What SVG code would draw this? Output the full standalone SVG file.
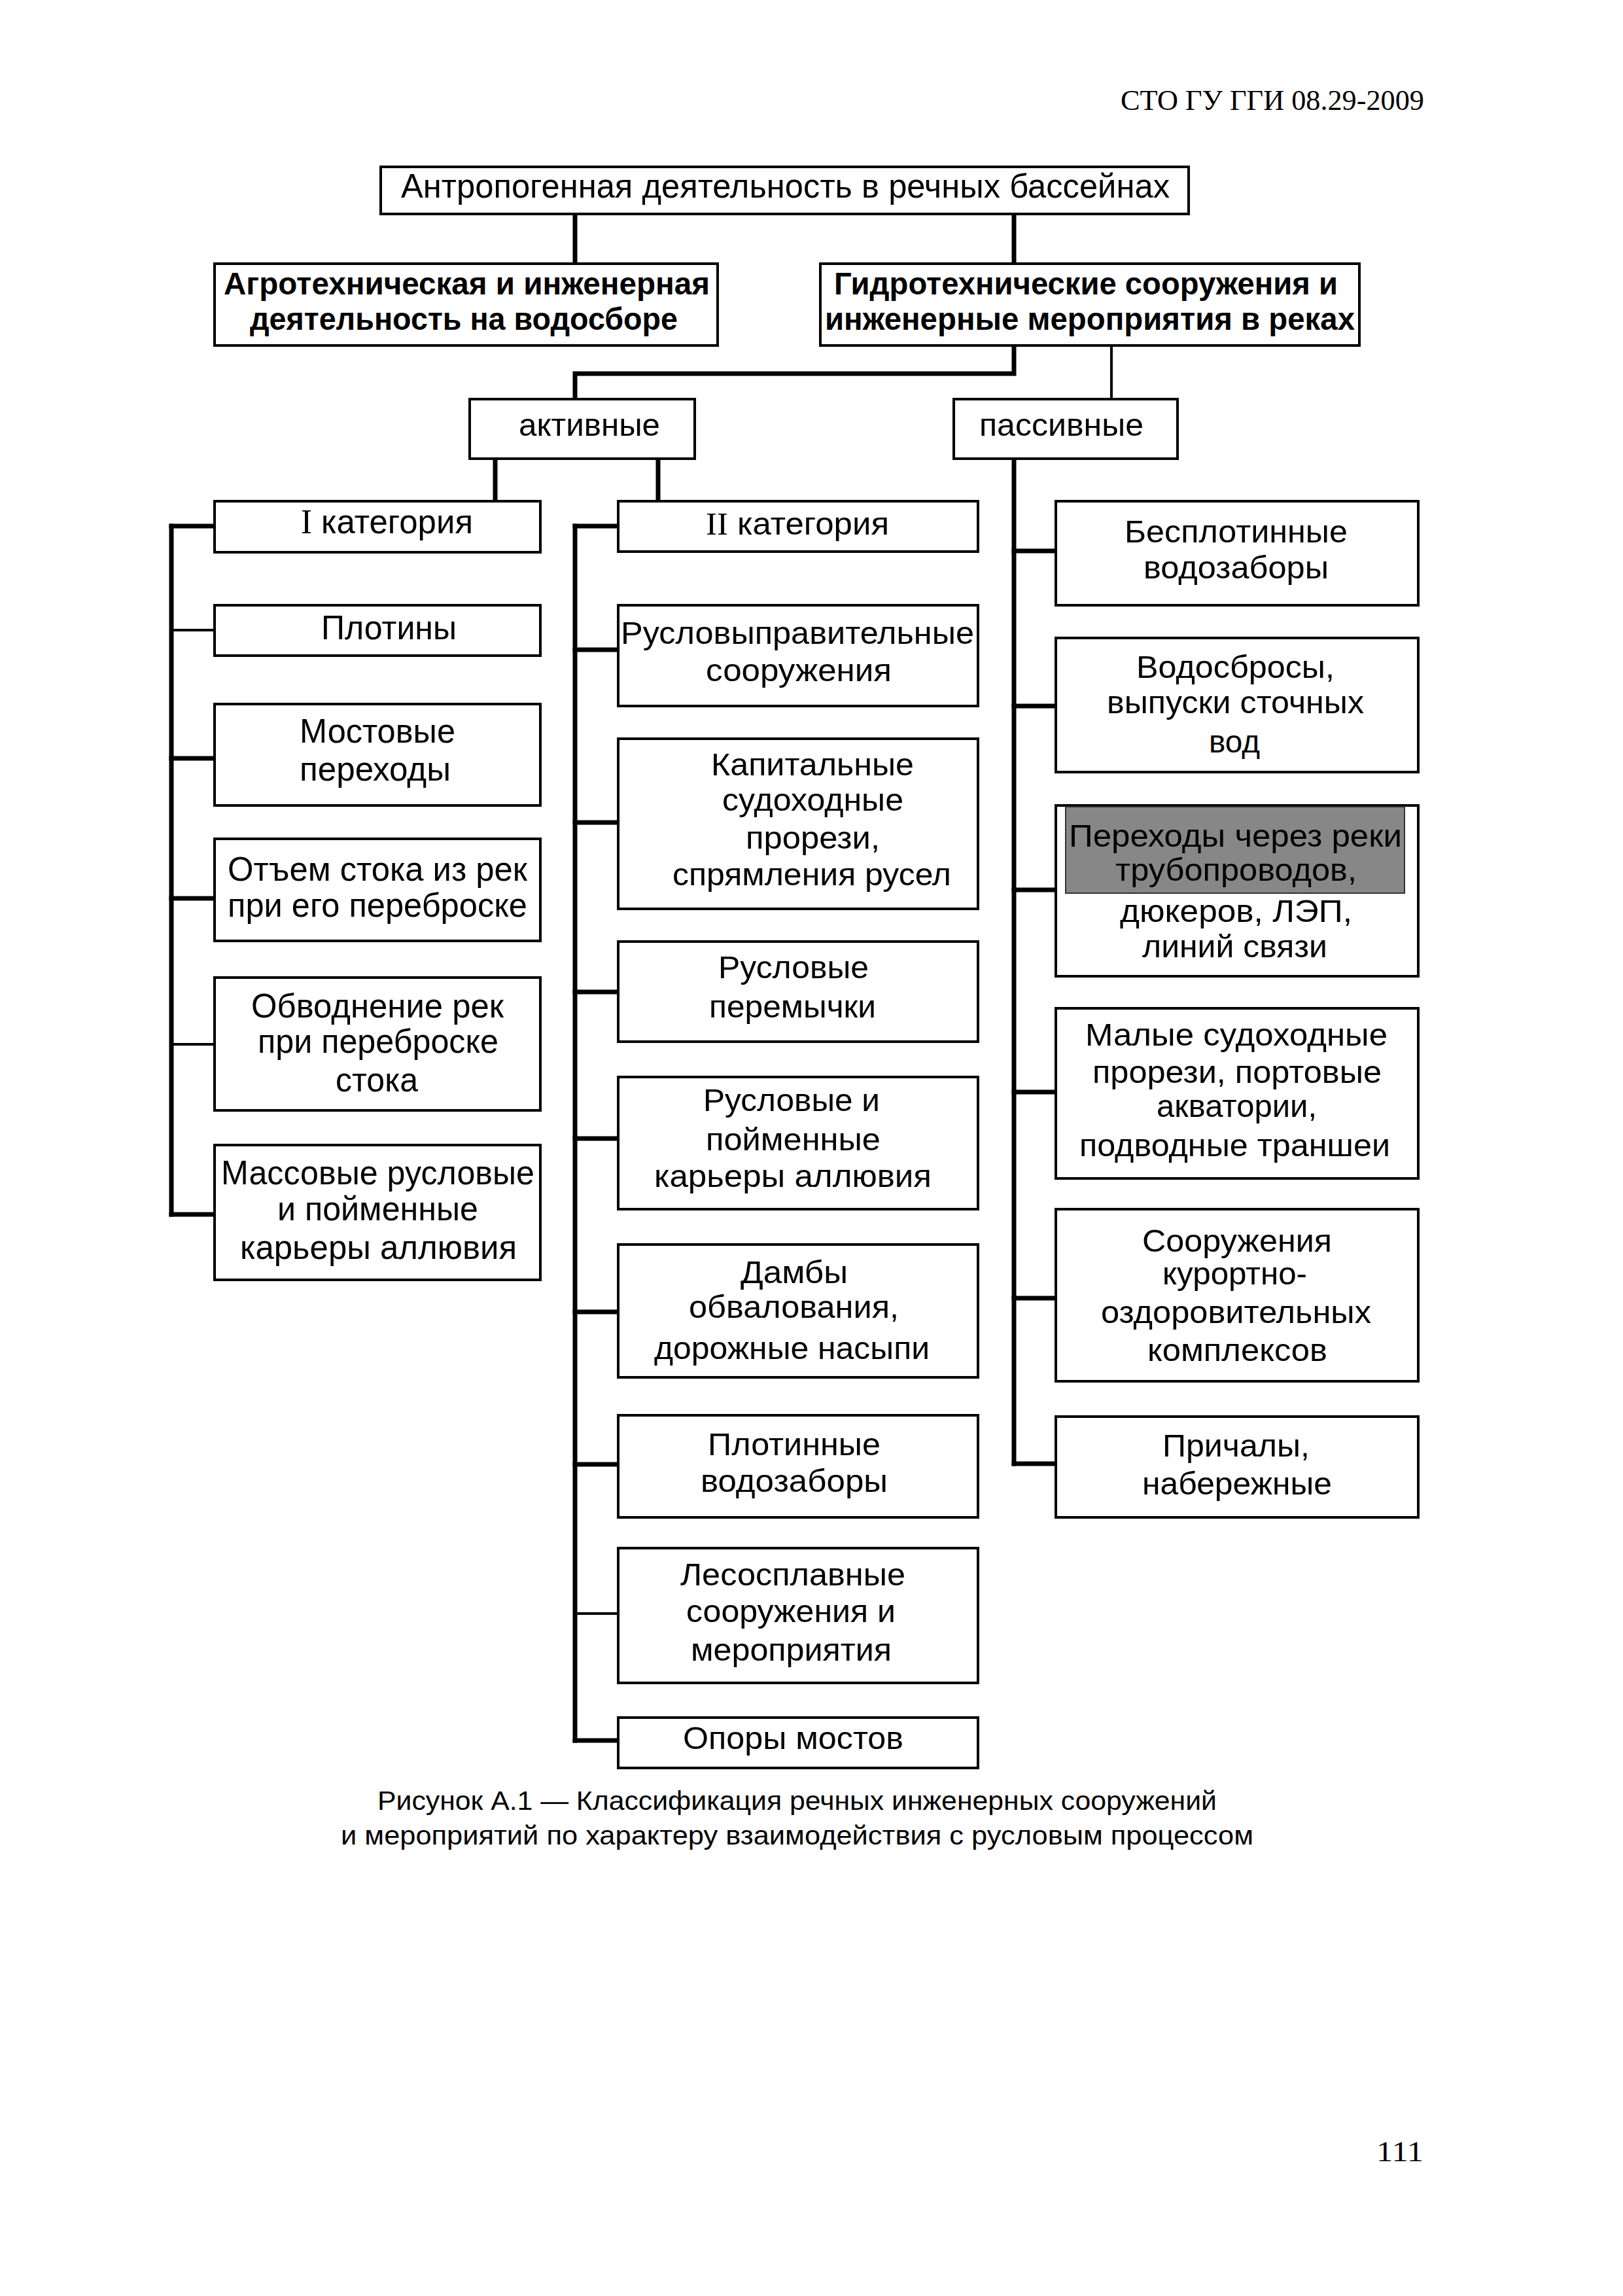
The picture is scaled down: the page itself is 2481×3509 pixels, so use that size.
<svg xmlns="http://www.w3.org/2000/svg" width="2481" height="3509" viewBox="0 0 2481 3509">
<style>
.box{fill:#fff;stroke:#000;stroke-width:4}
text{font-family:"Liberation Sans",Arial,sans-serif;fill:#000}
.t52{font-size:52px}
.t48{font-size:48px}
.b{font-weight:bold}
.rn{font-family:"Liberation Serif","Times New Roman",serif}
.c{fill:none;stroke:#000;stroke-linecap:square}
.k{stroke-width:7}
.n{stroke-width:4}
.ser{font-family:"Liberation Serif","Times New Roman",serif;font-size:44px}
</style>
<rect width="2481" height="3509" fill="#fff"/>
<text class="ser" x="1713" y="168" textLength="464" lengthAdjust="spacingAndGlyphs">СТО ГУ ГГИ 08.29-2009</text>

<g id="connectors">
<path class="c k" d="M879 327V403M1550 327V403"/>
<path class="c k" d="M1550 528V571H879V610"/>
<path class="c n" d="M1699 528V610"/>
<path class="c k" d="M757 701V766M1006 701V766"/>
<path class="c k" d="M1550 701V2237"/>
<path class="c k" d="M262 804V1856"/>
<path class="c k" d="M879 804V2660"/>
<path class="c k" d="M262 804H328M262 1159H328M262 1373H328M262 1856H328"/>
<path class="c n" d="M262 963H328M262 1596H328"/>
<path class="c k" d="M879 804H945M879 993H945M879 1257H945M879 1516H945M879 1740H945M879 2005H945M879 2238H945M879 2660H945"/>
<path class="c n" d="M879 2466H945"/>
<path class="c k" d="M1550 842H1614M1550 1079H1614M1550 1360H1614M1550 1669H1614M1550 1984H1614M1550 2237H1614"/>
</g>

<g id="n_root"><rect class="box" x="582" y="255" width="1235" height="72"/>
<text class="t52" x="613" y="302" textLength="1175" lengthAdjust="spacingAndGlyphs">Антропогенная деятельность в речных бассейнах</text></g>

<g id="n_agro"><rect class="box" x="328" y="403" width="769" height="125"/>
<text class="t48 b" x="342" y="450" textLength="743" lengthAdjust="spacingAndGlyphs">Агротехническая и инженерная</text>
<text class="t48 b" x="382" y="504" textLength="654" lengthAdjust="spacingAndGlyphs">деятельность на водосборе</text></g>

<g id="n_hydro"><rect class="box" x="1254" y="403" width="824" height="125"/>
<text class="t48 b" x="1275" y="450" textLength="770" lengthAdjust="spacingAndGlyphs">Гидротехнические сооружения и</text>
<text class="t48 b" x="1261" y="504" textLength="810" lengthAdjust="spacingAndGlyphs">инженерные мероприятия в реках</text></g>

<g id="n_active"><rect class="box" x="718" y="610" width="344" height="91"/>
<text class="t48" x="793" y="666" textLength="216" lengthAdjust="spacingAndGlyphs">активные</text></g>

<g id="n_passive"><rect class="box" x="1458" y="610" width="342" height="91"/>
<text class="t48" x="1497" y="666" textLength="251" lengthAdjust="spacingAndGlyphs">пассивные</text></g>

<!-- Left column -->
<g id="n_cat1"><rect class="box" x="328" y="766" width="498" height="78"/>
<text class="t52" x="460" y="815" textLength="263" lengthAdjust="spacingAndGlyphs"><tspan class="rn">I</tspan> категория</text></g>
<g id="n_dams"><rect class="box" x="328" y="925" width="498" height="77"/>
<text class="t52" x="491" y="977" textLength="207" lengthAdjust="spacingAndGlyphs">Плотины</text></g>
<g id="n_bridges"><rect class="box" x="328" y="1076" width="498" height="155"/>
<text class="t52" x="458" y="1135" textLength="238" lengthAdjust="spacingAndGlyphs">Мостовые</text>
<text class="t52" x="458" y="1193" textLength="231" lengthAdjust="spacingAndGlyphs">переходы</text></g>
<g id="n_withdraw"><rect class="box" x="328" y="1282" width="498" height="156"/>
<text class="t52" x="348" y="1346" textLength="458" lengthAdjust="spacingAndGlyphs">Отъем стока из рек</text>
<text class="t52" x="348" y="1401" textLength="458" lengthAdjust="spacingAndGlyphs">при его переброске</text></g>
<g id="n_watering"><rect class="box" x="328" y="1494" width="498" height="203"/>
<text class="t52" x="384" y="1555" textLength="386" lengthAdjust="spacingAndGlyphs">Обводнение рек</text>
<text class="t52" x="394" y="1609" textLength="368" lengthAdjust="spacingAndGlyphs">при переброске</text>
<text class="t52" x="513" y="1668" textLength="126" lengthAdjust="spacingAndGlyphs">стока</text></g>
<g id="n_mass"><rect class="box" x="328" y="1750" width="498" height="206"/>
<text class="t52" x="338" y="1810" textLength="479" lengthAdjust="spacingAndGlyphs">Массовые русловые</text>
<text class="t52" x="424" y="1865" textLength="307" lengthAdjust="spacingAndGlyphs">и пойменные</text>
<text class="t52" x="367" y="1924" textLength="423" lengthAdjust="spacingAndGlyphs">карьеры аллювия</text></g>

<!-- Middle column -->
<g id="n_cat2"><rect class="box" x="945" y="766" width="550" height="77"/>
<text class="t48" x="1079" y="817" textLength="280" lengthAdjust="spacingAndGlyphs"><tspan class="rn">II</tspan> категория</text></g>
<g id="n_regul"><rect class="box" x="945" y="925" width="550" height="154"/>
<text class="t48" x="949" y="984" textLength="540" lengthAdjust="spacingAndGlyphs">Русловыправительные</text>
<text class="t48" x="1079" y="1041" textLength="284" lengthAdjust="spacingAndGlyphs">сооружения</text></g>
<g id="n_cap"><rect class="box" x="945" y="1129" width="550" height="260"/>
<text class="t48" x="1087" y="1185" textLength="310" lengthAdjust="spacingAndGlyphs">Капитальные</text>
<text class="t48" x="1104" y="1239" textLength="277" lengthAdjust="spacingAndGlyphs">судоходные</text>
<text class="t48" x="1140" y="1297" textLength="205" lengthAdjust="spacingAndGlyphs">прорези,</text>
<text class="t48" x="1028" y="1353" textLength="426" lengthAdjust="spacingAndGlyphs">спрямления русел</text></g>
<g id="n_jumpers"><rect class="box" x="945" y="1439" width="550" height="153"/>
<text class="t48" x="1098" y="1495" textLength="230" lengthAdjust="spacingAndGlyphs">Русловые</text>
<text class="t48" x="1084" y="1555" textLength="255" lengthAdjust="spacingAndGlyphs">перемычки</text></g>
<g id="n_quarries"><rect class="box" x="945" y="1646" width="550" height="202"/>
<text class="t48" x="1075" y="1698" textLength="270" lengthAdjust="spacingAndGlyphs">Русловые и</text>
<text class="t48" x="1079" y="1758" textLength="267" lengthAdjust="spacingAndGlyphs">пойменные</text>
<text class="t48" x="1000" y="1814" textLength="424" lengthAdjust="spacingAndGlyphs">карьеры аллювия</text></g>
<g id="n_dikes"><rect class="box" x="945" y="1902" width="550" height="203"/>
<text class="t48" x="1132" y="1961" textLength="164" lengthAdjust="spacingAndGlyphs">Дамбы</text>
<text class="t48" x="1053" y="2014" textLength="321" lengthAdjust="spacingAndGlyphs">обвалования,</text>
<text class="t48" x="1000" y="2077" textLength="421" lengthAdjust="spacingAndGlyphs">дорожные насыпи</text></g>
<g id="n_damintake"><rect class="box" x="945" y="2163" width="550" height="156"/>
<text class="t48" x="1082" y="2224" textLength="264" lengthAdjust="spacingAndGlyphs">Плотинные</text>
<text class="t48" x="1071" y="2280" textLength="286" lengthAdjust="spacingAndGlyphs">водозаборы</text></g>
<g id="n_timber"><rect class="box" x="945" y="2366" width="550" height="206"/>
<text class="t48" x="1040" y="2423" textLength="344" lengthAdjust="spacingAndGlyphs">Лесосплавные</text>
<text class="t48" x="1049" y="2479" textLength="320" lengthAdjust="spacingAndGlyphs">сооружения и</text>
<text class="t48" x="1056" y="2538" textLength="307" lengthAdjust="spacingAndGlyphs">мероприятия</text></g>
<g id="n_piers"><rect class="box" x="945" y="2625" width="550" height="77"/>
<text class="t48" x="1044" y="2673" textLength="337" lengthAdjust="spacingAndGlyphs">Опоры мостов</text></g>

<!-- Right column -->
<g id="n_nodam"><rect class="box" x="1614" y="766" width="554" height="159"/>
<text class="t48" x="1719" y="829" textLength="341" lengthAdjust="spacingAndGlyphs">Бесплотинные</text>
<text class="t48" x="1748" y="884" textLength="283" lengthAdjust="spacingAndGlyphs">водозаборы</text></g>
<g id="n_outlets"><rect class="box" x="1614" y="975" width="554" height="205"/>
<text class="t48" x="1737" y="1036" textLength="303" lengthAdjust="spacingAndGlyphs">Водосбросы,</text>
<text class="t48" x="1692" y="1090" textLength="393" lengthAdjust="spacingAndGlyphs">выпуски сточных</text>
<text class="t48" x="1848" y="1150" textLength="78" lengthAdjust="spacingAndGlyphs">вод</text></g>
<g id="n_crossings"><rect class="box" x="1614" y="1231" width="554" height="261"/>
<rect x="1629" y="1233" width="518" height="132" fill="#878787" stroke="#333" stroke-width="2"/>
<text class="t48" x="1634" y="1294" textLength="509" lengthAdjust="spacingAndGlyphs">Переходы через реки</text>
<text class="t48" x="1705" y="1346" textLength="369" lengthAdjust="spacingAndGlyphs">трубопроводов,</text>
<text class="t48" x="1712" y="1409" textLength="355" lengthAdjust="spacingAndGlyphs">дюкеров, ЛЭП,</text>
<text class="t48" x="1746" y="1463" textLength="283" lengthAdjust="spacingAndGlyphs">линий связи</text></g>
<g id="n_small"><rect class="box" x="1614" y="1541" width="554" height="260"/>
<text class="t48" x="1659" y="1598" textLength="462" lengthAdjust="spacingAndGlyphs">Малые судоходные</text>
<text class="t48" x="1670" y="1655" textLength="442" lengthAdjust="spacingAndGlyphs">прорези, портовые</text>
<text class="t48" x="1768" y="1707" textLength="245" lengthAdjust="spacingAndGlyphs">акватории,</text>
<text class="t48" x="1650" y="1767" textLength="475" lengthAdjust="spacingAndGlyphs">подводные траншеи</text></g>
<g id="n_resort"><rect class="box" x="1614" y="1848" width="554" height="263"/>
<text class="t48" x="1746" y="1913" textLength="290" lengthAdjust="spacingAndGlyphs">Сооружения</text>
<text class="t48" x="1777" y="1963" textLength="221" lengthAdjust="spacingAndGlyphs">курортно-</text>
<text class="t48" x="1683" y="2022" textLength="413" lengthAdjust="spacingAndGlyphs">оздоровительных</text>
<text class="t48" x="1754" y="2080" textLength="275" lengthAdjust="spacingAndGlyphs">комплексов</text></g>
<g id="n_berths"><rect class="box" x="1614" y="2165" width="554" height="154"/>
<text class="t48" x="1777" y="2226" textLength="225" lengthAdjust="spacingAndGlyphs">Причалы,</text>
<text class="t48" x="1746" y="2284" textLength="290" lengthAdjust="spacingAndGlyphs">набережные</text></g>

<g id="caption">
<text x="577" y="2766" font-size="40" textLength="1283" lengthAdjust="spacingAndGlyphs">Рисунок А.1 — Классификация речных инженерных сооружений</text>
<text x="521" y="2819" font-size="40" textLength="1395" lengthAdjust="spacingAndGlyphs">и мероприятий по характеру взаимодействия с русловым процессом</text>
</g>
<text class="ser" x="2104" y="3303" textLength="72" lengthAdjust="spacingAndGlyphs">111</text>
</svg>
